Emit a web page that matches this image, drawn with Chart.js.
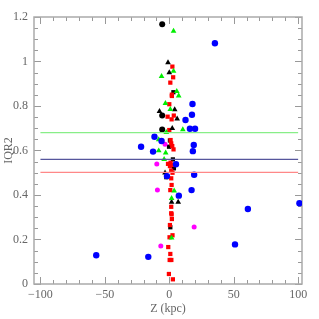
<!DOCTYPE html>
<html>
<head>
<meta charset="utf-8">
<script src="https://cdn.jsdelivr.net/npm/chart.js@4"></script>
<style>
  html, body { margin: 0; padding: 0; background: #fff; }
  #wrap { width: 319px; height: 319px; }
</style>
</head>
<body>
<div id="wrap"><canvas id="myChart" width="319" height="319"></canvas></div>
<script>
// axis ticks
const xTicks = [-100, -50, 0, 50, 100];
const yTicks = [0, 0.2, 0.4, 0.6, 0.8, 1, 1.2];

// reference lines (IQR2 levels)
const lineX = [-100, 100];
const greenLevel = 0.68;
const blueLevel = 0.56;
const redLevel = 0.502;

// point series: [Z, IQR2]
const blueCircles = [
  [35.4, 1.082], [18, 0.809], [17.6, 0.761], [12.6, 0.737], [16, 0.698], [20, 0.698],
  [-11.5, 0.662], [-6, 0.643], [19, 0.625], [-21.9, 0.617], [-12.6, 0.595], [18.3, 0.597],
  [5.2, 0.538], [-1.8, 0.485], [19.3, 0.491], [17.3, 0.422], [7.4, 0.397], [101, 0.363],
  [61, 0.337], [51, 0.178], [-56.7, 0.129], [-16.3, 0.122],
];
const blackCircles = [[-5.5, 1.167], [-5.5, 0.757], [-5.5, 0.694]];
const blackTriangles = [
  [-1, 0.995], [0, 0.95], [4.2, 0.784], [-7.6, 0.776], [6.1, 0.742], [2.3, 0.70],
  [-3.3, 0.50], [1.8, 0.368], [6.9, 0.368],
];
const greenTriangles = [
  [3.3, 1.137], [3.3, 0.957], [-6, 0.933], [5.8, 0.866], [7.3, 0.846], [-3, 0.812],
  [0.8, 0.785], [10.5, 0.694], [-2.3, 0.682], [-8.2, 0.649], [-8.2, 0.599], [-2.8, 0.59],
  [-4, 0.56], [3.8, 0.419], [1.8, 0.385], [1.8, 0.207],
];
const blackSquares = [
  [3.2, 0.862], [0.5, 0.645], [-0.2, 0.617], [2.8, 0.56], [3.6, 0.52], [-2.3, 0.48], [0.8, 0.255],
];
const redSquares = [
  [2.4, 0.977], [3, 0.929], [0.8, 0.905], [2, 0.851], [2, 0.845], [0, 0.808], [-1.3, 0.752],
  [1.8, 0.74], [3.5, 0.757], [0, 0.692], [1, 0.647], [1.5, 0.632], [2.3, 0.62], [3.3, 0.605],
  [-1, 0.54], [1, 0.545], [3, 0.535], [0.5, 0.53], [1.5, 0.51], [2.5, 0.50], [1.5, 0.475],
  [1.8, 0.445], [0.8, 0.422], [1.5, 0.347], [1.5, 0.318], [1.8, 0.313], [2, 0.292],
  [0.5, 0.265], [2.5, 0.219], [0.2, 0.21], [-0.8, 0.166], [0.8, 0.135], [0.3, 0.108],
  [1.6, 0.108], [-0.3, 0.045], [2.8, 0.021],
];
const magentaCircles = [[-3.3, 0.628], [-9.7, 0.539], [-9.2, 0.422], [19.3, 0.256], [-6.6, 0.171]];

const toPts = (arr) => arr.map(([x, y]) => ({ x, y }));
const levelLine = (level) => lineX.map((x) => ({ x, y: level }));

// inward ticks on all four sides plus the frame
const frameTicks = {
  id: 'frameTicks',
  beforeDatasetsDraw(chart) {
    const { ctx, chartArea: a, scales: { x, y } } = chart;
    ctx.save();
    ctx.strokeStyle = '#999';
    ctx.lineWidth = 1;
    ctx.beginPath();
    for (let v = -100; v <= 100; v += 10) {
      const px = Math.round(x.getPixelForValue(v)) + 0.5;
      const len = v % 50 === 0 ? 7 : 4;
      ctx.moveTo(px, a.bottom); ctx.lineTo(px, a.bottom - len);
      ctx.moveTo(px, a.top); ctx.lineTo(px, a.top + len);
    }
    for (let i = 0; i <= 24; i++) {
      const v = i * 0.05;
      const py = Math.round(y.getPixelForValue(v)) + 0.5;
      const len = i % 4 === 0 ? 7 : 4;
      ctx.moveTo(a.left, py); ctx.lineTo(a.left + len, py);
      ctx.moveTo(a.right, py); ctx.lineTo(a.right - len, py);
    }
    ctx.stroke();
    ctx.strokeStyle = '#aaa';
    ctx.lineWidth = 1.5;
    ctx.strokeRect(a.left, a.top, a.right - a.left, a.bottom - a.top);
    ctx.restore();
  },
};

const font = { family: 'Liberation Serif', size: 12 };
const ctx = document.getElementById('myChart').getContext('2d');
new Chart(ctx, {
  type: 'scatter',
  data: {
    datasets: [
      { type: 'line', data: levelLine(greenLevel), borderColor: '#88ee88', borderWidth: 1.3, pointRadius: 0 },
      { type: 'line', data: levelLine(blueLevel), borderColor: '#56569c', borderWidth: 1.3, pointRadius: 0 },
      { type: 'line', data: levelLine(redLevel), borderColor: '#ff8888', borderWidth: 1.3, pointRadius: 0 },
      { data: toPts(blueCircles), pointStyle: 'circle', pointRadius: 3.2, backgroundColor: '#0000ff', borderWidth: 0 },
      { data: toPts(magentaCircles), pointStyle: 'circle', pointRadius: 2.5, backgroundColor: '#ff00ff', borderWidth: 0 },
      { data: toPts(greenTriangles), pointStyle: 'triangle', pointRadius: 3.3, backgroundColor: '#00ee00', borderWidth: 0 },
      { data: toPts(blackTriangles), pointStyle: 'triangle', pointRadius: 3.3, backgroundColor: '#000', borderWidth: 0 },
      { data: toPts(redSquares), pointStyle: 'rect', pointRadius: 3, backgroundColor: '#ff0000', borderWidth: 0 },
      { data: toPts(blackSquares), pointStyle: 'rect', pointRadius: 3, backgroundColor: '#000', borderWidth: 0 },
      { data: toPts(blackCircles), pointStyle: 'circle', pointRadius: 3, backgroundColor: '#000', borderWidth: 0 },
    ],
  },
  options: {
    responsive: false,
    animation: false,
    events: [],
    layout: { padding: { top: 17, right: 17, left: 0, bottom: 0 } },
    plugins: { legend: { display: false }, tooltip: { enabled: false } },
    scales: {
      x: {
        type: 'linear',
        min: -105,
        max: 103,
        afterBuildTicks: (scale) => { scale.ticks = xTicks.map((value) => ({ value })); },
        afterFit: (scale) => { scale.height = 35; },
        ticks: {
          color: '#666',
          font,
          padding: 4,
          maxRotation: 0,
          callback: (v) => String(v).replace('-', '\u2212'),
        },
        grid: { display: false, drawTicks: false },
        border: { display: false },
        title: { display: true, text: 'Z (kpc)', color: '#666', font, padding: { top: 0, bottom: 3 } },
      },
      y: {
        type: 'linear',
        min: 0,
        max: 1.2,
        afterBuildTicks: (scale) => { scale.ticks = yTicks.map((value) => ({ value })); },
        afterFit: (scale) => { scale.width = 34; },
        ticks: { color: '#666', font, padding: 6, callback: (v) => String(Math.round(v * 10) / 10) },
        grid: { display: false, drawTicks: false },
        border: { display: false },
        title: { display: true, text: 'IQR2', color: '#666', font, padding: { top: 2, bottom: 0 } },
      },
    },
  },
  plugins: [frameTicks],
});
</script>
</body>
</html>
